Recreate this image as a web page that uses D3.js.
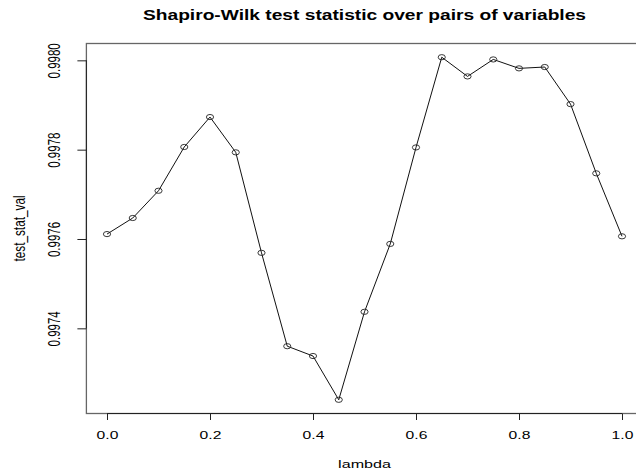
<!DOCTYPE html>
<html>
<head>
<meta charset="utf-8">
<script src="https://cdn.jsdelivr.net/npm/d3@7"></script>
<style>
  html, body { margin: 0; padding: 0; background: #fff; }
  svg { display: block; }
  text { font-family: "Liberation Sans", Arial, Helvetica, sans-serif; fill: #000; }
</style>
</head>
<body>
<script>
// ---- data ----
const lambda = [0.00, 0.05, 0.10, 0.15, 0.20, 0.25, 0.30, 0.35, 0.40, 0.45, 0.50,
                0.55, 0.60, 0.65, 0.70, 0.75, 0.80, 0.85, 0.90, 0.95, 1.00];
const testStatVal = [0.997611, 0.997647, 0.997708, 0.997806, 0.997873, 0.997794, 0.997569,
                     0.997360, 0.997338, 0.997240, 0.997437, 0.997589, 0.997805, 0.998007,
                     0.997964, 0.998002, 0.997982, 0.997985, 0.997902, 0.997747, 0.997606];
const xTicks = [0.0, 0.2, 0.4, 0.6, 0.8, 1.0];
const yTicks = [0.9974, 0.9976, 0.9978, 0.9980];
const titleText = "Shapiro-Wilk test statistic over pairs of variables";
const xLabel = "lambda";
const yLabel = "test_stat_val";

// ---- layout ----
const W = 636, H = 474;
const plotLeft = 86.4, plotRight = 642.6, plotTop = 43.5, plotBottom = 413.5;
const SX = 1.4; // horizontal stretch of the original raster

const svg = d3.select("body").append("svg").attr("width", W).attr("height", H);

// R-style 4% padding
const xr = d3.extent(lambda), yr = d3.extent(testStatVal);
const xPad = (xr[1] - xr[0]) * 0.04, yPad = (yr[1] - yr[0]) * 0.04;
const x = d3.scaleLinear().domain([xr[0] - xPad, xr[1] + xPad]).range([plotLeft, plotRight]);
const y = d3.scaleLinear().domain([yr[0] - yPad, yr[1] + yPad]).range([plotBottom, plotTop]);

// box
svg.append("rect")
  .attr("x", plotLeft).attr("y", plotTop)
  .attr("width", plotRight - plotLeft).attr("height", plotBottom - plotTop)
  .attr("fill", "none").attr("stroke", "#666").attr("stroke-width", 1.3);

// x axis
const xAxis = d3.axisBottom(x).tickValues(xTicks).tickFormat(d3.format(".1f"))
  .tickSizeOuter(0).tickSizeInner(6.5).tickPadding(0);
const gx = svg.append("g").attr("transform", `translate(0,${plotBottom})`).call(xAxis);
gx.select(".domain").attr("d", `M${x(xTicks[0])},0H${x(xTicks[xTicks.length - 1])}`)
  .attr("stroke", "#222");
gx.selectAll(".tick line").attr("stroke", "#222");
gx.selectAll(".tick text")
  .attr("y", null).attr("dy", null)
  .attr("transform", `translate(0,25.5) scale(${SX},1)`)
  .attr("font-size", 11.2).attr("fill", "#111");

// y axis
const yAxis = d3.axisLeft(y).tickValues(yTicks).tickFormat(d3.format(".4f"))
  .tickSizeOuter(0).tickSizeInner(9).tickPadding(0);
const gy = svg.append("g").attr("transform", `translate(${plotLeft},0)`).call(yAxis);
gy.select(".domain").attr("d", `M0,${y(yTicks[0])}V${y(yTicks[yTicks.length - 1])}`)
  .attr("stroke", "#222");
gy.selectAll(".tick line").attr("stroke", "#222");
gy.selectAll(".tick text")
  .attr("x", null).attr("dy", null).attr("y", null)
  .attr("text-anchor", "middle")
  .attr("transform", `translate(${59.5 - plotLeft},0) scale(${SX},1) rotate(-90)`)
  .attr("font-size", 11.5).attr("fill", "#111");
svg.selectAll(".tick text").attr("font-family", "Liberation Sans, Arial, sans-serif");

// title
svg.append("text")
  .attr("x", (plotLeft + plotRight) / 2).attr("y", 20.3)
  .attr("text-anchor", "middle")
  .attr("font-size", 15).attr("font-weight", "bold")
  .attr("textLength", 443).attr("lengthAdjust", "spacingAndGlyphs")
  .text(titleText);

// axis titles
svg.append("text")
  .attr("transform", `translate(${(plotLeft + plotRight) / 2},468) scale(${SX},1)`)
  .attr("text-anchor", "middle").attr("font-size", 11.5).attr("fill", "#111")
  .text(xLabel);
svg.append("text")
  .attr("transform", `translate(25,${(plotTop + plotBottom) / 2}) scale(${SX},1) rotate(-90)`)
  .attr("text-anchor", "middle").attr("font-size", 11.8).attr("fill", "#111")
  .text(yLabel);

// line + points (type = "o")
const data = lambda.map((l, i) => ({ l, v: testStatVal[i] }));
svg.append("path")
  .datum(data)
  .attr("fill", "none").attr("stroke", "#111").attr("stroke-width", 1)
  .attr("d", d3.line().x(d => x(d.l)).y(d => y(d.v)));
svg.append("g").selectAll("ellipse").data(data).join("ellipse")
  .attr("cx", d => x(d.l)).attr("cy", d => y(d.v))
  .attr("rx", 3.6).attr("ry", 2.6)
  .attr("fill", "none").attr("stroke", "#222").attr("stroke-width", 0.9);
</script>
</body>
</html>
